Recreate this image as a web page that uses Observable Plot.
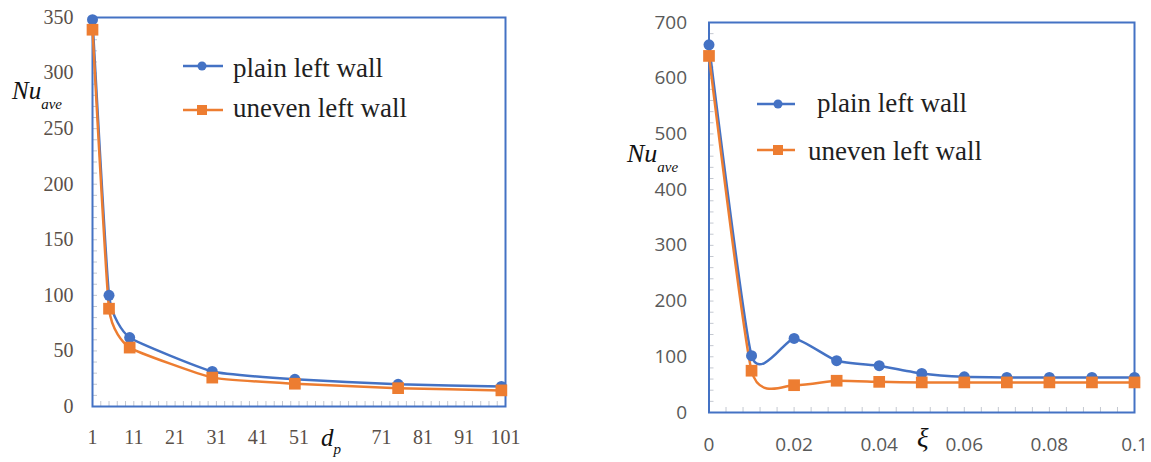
<!DOCTYPE html>
<html><head><meta charset="utf-8">
<script src="https://cdn.jsdelivr.net/npm/d3@7"></script>
<script src="https://cdn.jsdelivr.net/npm/@observablehq/plot@0.6"></script>
<style>
html,body{margin:0;padding:0;background:#fff;}
#wrap{position:relative;width:1151px;height:462px;overflow:hidden;background:#fff;}
#wrap > svg{position:absolute;top:0;}
</style></head><body><div id="wrap"></div>
<script>
// ---------- data ----------
const seriesNames = ["plain left wall", "uneven left wall"];
const seriesColors = ["#4472C4", "#ED7D31"];

// left panel: Nu_ave vs d_p
const dp = [1, 5, 10, 30, 50, 75, 100];
const nuPlainDp = [348, 100, 62, 31.5, 24.5, 20, 18];
const nuUnevenDp = [339, 88, 53, 26, 20.5, 16.5, 14.5];
const dpTicks = [1, 11, 21, 31, 41, 51, 71, 81, 91, 101];
const nuTicksLeft = [0, 50, 100, 150, 200, 250, 300, 350];
const dpMinor = d3.range(1, 102, 2);
const nuMinorLeft = d3.range(0, 351, 10);

// right panel: Nu_ave vs xi
const xi = [0, 0.01, 0.02, 0.03, 0.04, 0.05, 0.06, 0.07, 0.08, 0.09, 0.1];
const nuPlainXi = [660, 102, 133, 93, 84, 70, 64, 63, 63, 63, 63];
const nuUnevenXi = [640, 75, 49, 57, 55, 54, 54, 54, 54, 54, 54];
const xiTicks = [0, 0.02, 0.04, 0.06, 0.08, 0.1];
const nuTicksRight = [0, 100, 200, 300, 400, 500, 600, 700];
const xiMinor = d3.range(0, 26).map(i => i * 0.004);
const nuMinorRight = d3.range(0, 701, 20);

// ---------- build tables ----------
const tableLeft = [
  ...dp.map((x, i) => ({x, y: nuPlainDp[i], s: seriesNames[0]})),
  ...dp.map((x, i) => ({x, y: nuUnevenDp[i], s: seriesNames[1]}))
];
const tableRight = [
  ...xi.map((x, i) => ({x, y: nuPlainXi[i], s: seriesNames[0]})),
  ...xi.map((x, i) => ({x, y: nuUnevenXi[i], s: seriesNames[1]}))
];

const wrap = document.getElementById("wrap");
const blue = seriesColors[0], orange = seriesColors[1];
const minorColor = "#c4c8d0";

function panel({width, height, mL, mR, mT, mB, xDomain, yDomain, xTicks, yTicks, xMinor, yMinor,
                table, font, fontSize, xPad, yPad, left, tension, labelColor}) {
  const pw = width - mL - mR, ph = height - mT - mB;
  const chart = Plot.plot({
    width, height, marginLeft: mL, marginRight: mR, marginTop: mT, marginBottom: mB,
    x: {domain: xDomain}, y: {domain: yDomain},
    color: {domain: seriesNames, range: seriesColors},
    style: {fontFamily: font, fontSize: fontSize, color: labelColor, background: "transparent", overflow: "visible"},
    marks: [
      Plot.ruleY(yMinor, {y: d => d, insetRight: pw - 5, stroke: minorColor, strokeWidth: 1}),
      Plot.ruleX(xMinor, {x: d => d, insetTop: ph - 5, stroke: minorColor, strokeWidth: 1}),
      Plot.frame({stroke: blue, strokeWidth: 2}),
      Plot.axisY({ticks: yTicks, tickSize: 0, tickPadding: yPad, label: null, tickFormat: d => String(d)}),
      Plot.axisX({ticks: xTicks, tickSize: 0, tickPadding: xPad, label: null, tickFormat: d => String(d)}),
      Plot.line(table, {x: "x", y: "y", z: "s", stroke: "s", curve: "cardinal", tension, strokeWidth: 2.5}),
      Plot.dot(table.filter(d => d.s === seriesNames[0]), {x: "x", y: "y", fill: blue, r: 5.5, symbol: "circle"}),
      Plot.dot(table.filter(d => d.s === seriesNames[1]), {x: "x", y: "y", fill: orange, r: 6.6, symbol: "square"})
    ]
  });
  chart.style.left = left + "px";
  wrap.appendChild(chart);
}

panel({width: 560, height: 462, mL: 92, mR: 55, mT: 17, mB: 56,
  xDomain: [1, 101], yDomain: [0, 350], xTicks: dpTicks, yTicks: nuTicksLeft,
  xMinor: dpMinor, yMinor: nuMinorLeft, table: tableLeft, tension: 0.6, labelColor: "#5a5048",
  font: "'Liberation Serif', 'Times New Roman', serif", fontSize: "20px", xPad: 23, yPad: 19, left: 0});

panel({width: 571, height: 462, mL: 128.5, mR: 17, mT: 22, mB: 50,
  xDomain: [0, 0.1], yDomain: [0, 700], xTicks: xiTicks, yTicks: nuTicksRight,
  xMinor: xiMinor, yMinor: nuMinorRight, table: tableRight, tension: 0.45, labelColor: "#595959",
  font: "'Open Sans', 'Noto Sans', sans-serif", fontSize: "19px", xPad: 24.5, yPad: 22, left: 580});

// ---------- overlay: legends and axis titles ----------
const ov = d3.select(wrap).append("svg")
  .attr("width", 1151).attr("height", 462)
  .style("left", "0px").style("pointer-events", "none");
const serif = "'Liberation Serif', 'Times New Roman', serif";

function legend(lx1, lx2, mx, items) {
  items.forEach((it, i) => {
    ov.append("line").attr("x1", lx1).attr("x2", lx2).attr("y1", it.ly).attr("y2", it.ly)
      .attr("stroke", seriesColors[i]).attr("stroke-width", 2.5);
    if (i === 0) ov.append("circle").attr("cx", mx).attr("cy", it.ly).attr("r", 4.5).attr("fill", seriesColors[i]);
    else ov.append("rect").attr("x", mx - 5).attr("y", it.ly - 5).attr("width", 10).attr("height", 10).attr("fill", seriesColors[i]);
    ov.append("text").attr("x", it.tx).attr("y", it.ty).attr("font-family", serif).attr("font-size", 27)
      .attr("fill", "#1f1f1f").text(seriesNames[i]);
  });
}
legend(183, 223, 202, [{ly: 66, tx: 233, ty: 77}, {ly: 110, tx: 233, ty: 117}]);
legend(757, 795, 778, [{ly: 104, tx: 817, ty: 112}, {ly: 150, tx: 808, ty: 160}]);

function sublabel(x, y, main, sub, fs, sfs, dy) {
  const t = ov.append("text").attr("x", x).attr("y", y).attr("font-family", serif)
    .attr("font-style", "italic").attr("fill", "#111").attr("font-size", fs);
  t.append("tspan").text(main);
  if (sub) t.append("tspan").attr("font-size", sfs).attr("dy", dy).text(sub);
}
sublabel(12, 99, "Nu", "ave", 25, 15, 10);
sublabel(627, 162, "Nu", "ave", 26, 15, 10);
sublabel(321, 446, "d", "p", 25, 15, 8);
sublabel(917, 447, "ξ", null, 27, 0, 0);
</script></body></html>
